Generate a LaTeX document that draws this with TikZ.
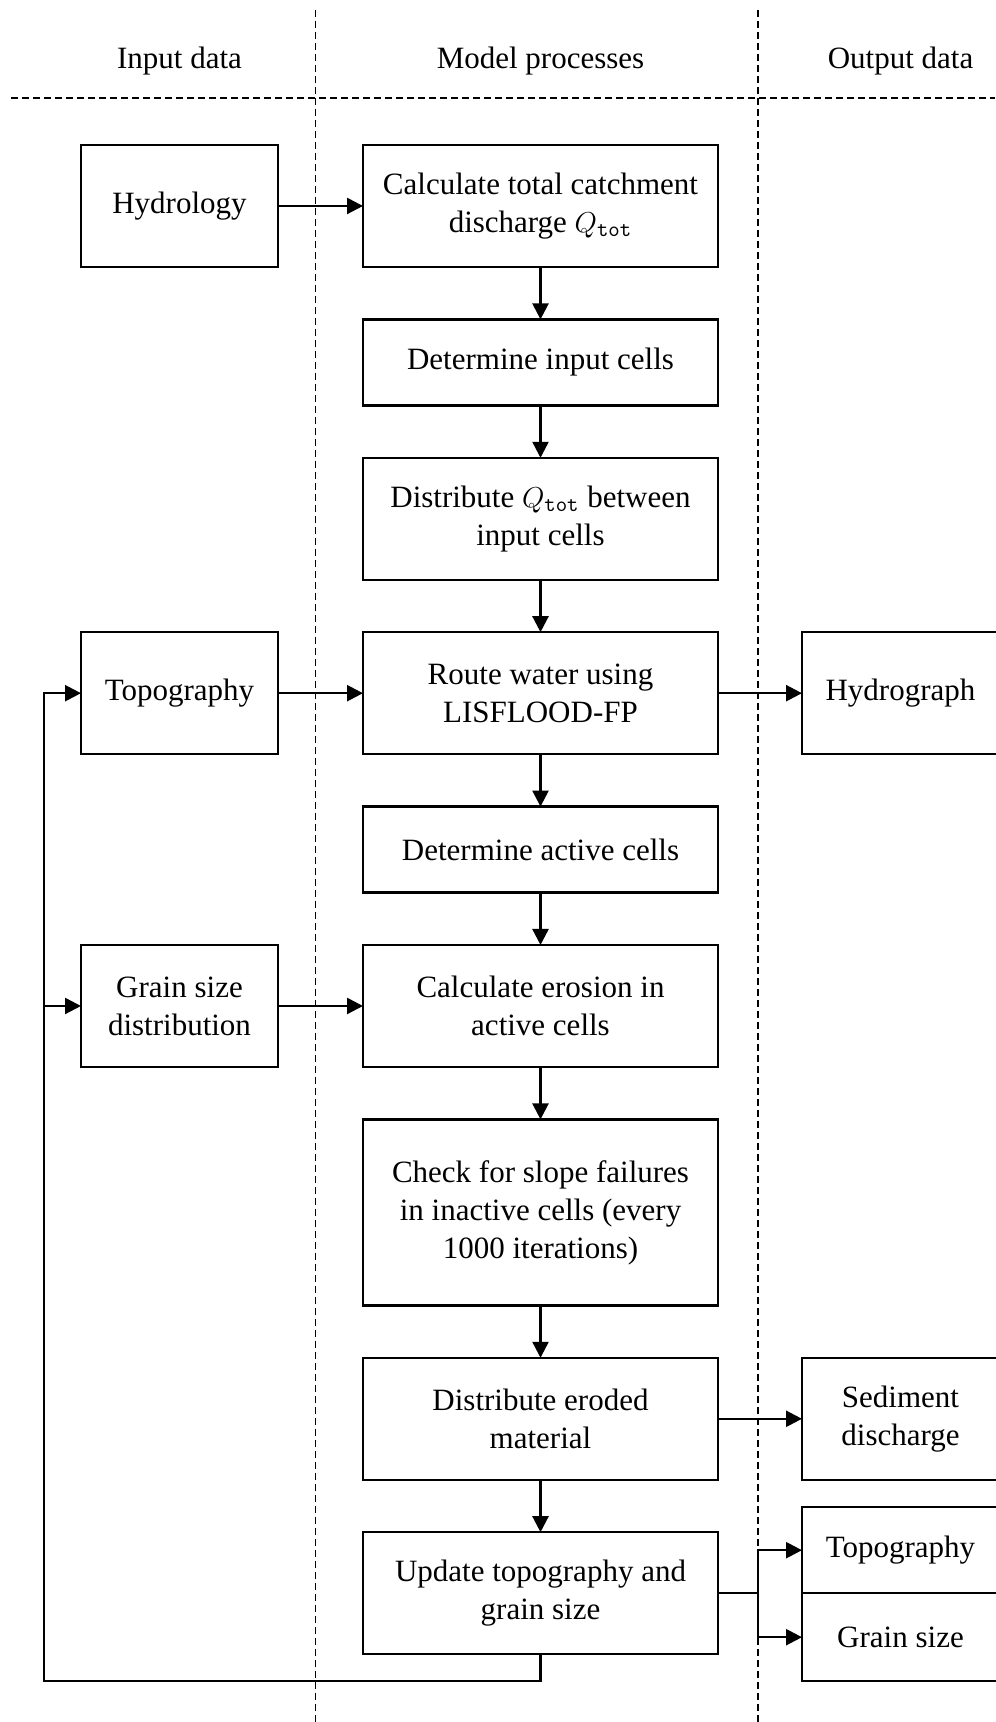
\documentclass[tikz,border=0pt]{standalone}
\usepackage{fontspec}
\setmainfont{Liberation Serif}
\usetikzlibrary{arrows.meta, positioning, calc}
\tikzset{
  procbox/.style={rectangle, draw=black, line width=1.2pt, minimum width=177.5pt, minimum height=61pt, align=center, outer sep=0pt},
  databox/.style={rectangle, draw=black, line width=1.2pt, minimum width=98.5pt, minimum height=61pt, align=center, outer sep=0pt},
  arrow/.style={-{Triangle[length=8pt, width=8pt]}, line width=1.2pt},
  divider/.style={line width=0.9pt, dash pattern=on 3.5pt off 2pt},
  headlabel/.style={draw=none, align=center}
}

\begin{document}
\begin{tikzpicture}[
    every node/.style={font=\fontsize{15.5}{19}\selectfont},
    node distance=26.2pt
]
\useasboundingbox (0,0) rectangle (497.5pt,861pt);

% Model processes column
\node[procbox] (calc) at (270.25pt,758pt) {Calculate total catchment\\discharge $Q_{\mathtt{tot}}$};
\node[procbox, minimum height=43pt, below=of calc] (inputs) {Determine input cells};
\node[procbox, below=of inputs] (distr) {Distribute $Q_{\mathtt{tot}}$ between\\input cells};
\node[procbox, below=of distr] (route) {Route water using\\LISFLOOD-FP};
\node[procbox, minimum height=43pt, below=of route] (active) {Determine active cells};
\node[procbox, below=of active] (erosion) {Calculate erosion in\\active cells};
\node[procbox, minimum height=93pt, below=of erosion] (slope) {Check for slope failures\\in inactive cells (every\\1000 iterations)};
\node[procbox, below=of slope] (eroded) {Distribute eroded\\material};
\node[procbox, below=of eroded] (update) {Update topography and\\grain size};

% Input data column
\node[databox, left=42.5pt of calc] (hydro) {Hydrology};
\node[databox, left=42.5pt of route] (topo) {Topography};
\node[databox, left=42.5pt of erosion] (grain) {Grain size\\distribution};

% Output data column
\node[databox, right=42pt of route] (hydrograph) {Hydrograph};
\node[databox, right=42pt of eroded] (sediment) {Sediment\\discharge};
\node[databox, minimum height=43pt, anchor=south west] (topoout) at ([xshift=42pt]update.east) {Topography};
\node[databox, minimum height=44pt, below=0pt of topoout] (grainout) {Grain size};

% Column headers and dividers
\coordinate (headline) at (0,830.5pt);
\node[headlabel] (inhead) at (hydro |- headline) {Input data};
\node[headlabel] (prochead) at (calc |- headline) {Model processes};
\node[headlabel] (outhead) at (hydrograph |- headline) {Output data};

\coordinate (leftdiv) at ([xshift=-2.5pt]$(hydro.east)!0.5!(calc.west)$);
\coordinate (rightdiv) at ([xshift=-1pt]$(calc.east)!0.5!(hydrograph.west |- calc.east)$);
\draw[divider] (5.5pt,812pt) -- (497.5pt,812pt);
\draw[divider] (leftdiv |- 0,856pt) -- (leftdiv |- 0,0);
\draw[divider] (rightdiv |- 0,856pt) -- (rightdiv |- 0,0);

% Main flow
\draw[arrow] (calc) -- (inputs);
\draw[arrow] (inputs) -- (distr);
\draw[arrow] (distr) -- (route);
\draw[arrow] (route) -- (active);
\draw[arrow] (active) -- (erosion);
\draw[arrow] (erosion) -- (slope);
\draw[arrow] (slope) -- (eroded);
\draw[arrow] (eroded) -- (update);

% Inputs and outputs
\draw[arrow] (hydro) -- (calc);
\draw[arrow] (topo) -- (route);
\draw[arrow] (grain) -- (erosion);
\draw[arrow] (route) -- (hydrograph);
\draw[arrow] (eroded) -- (sediment);

\coordinate (split) at ([xshift=-1pt]$(update.east)!0.5!(topoout.west |- update.east)$);
\draw[line width=1.2pt] (update.east) -- (split);
\draw[arrow] (split) |- (topoout.west);
\draw[arrow] (split) |- (grainout.west);

% Feedback loop
\coordinate (loopleft) at ([xshift=-18.5pt]topo.west);
\draw[arrow] (update.south) -- ++(0,-13.5pt) -| (loopleft) -- (topo.west);
\draw[arrow] (loopleft |- grain.west) -- (grain.west);

\end{tikzpicture}
\end{document}
